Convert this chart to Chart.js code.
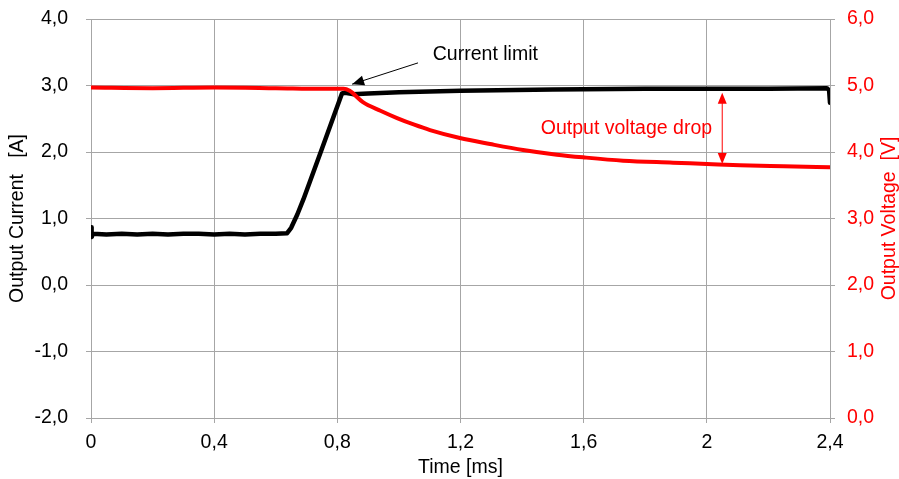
<!DOCTYPE html>
<html>
<head>
<meta charset="utf-8">
<script src="https://cdn.jsdelivr.net/npm/chart.js@4"></script>
<style>
  html, body { margin: 0; padding: 0; background: #fff; }
  #wrap { width: 899px; height: 479px; }
</style>
</head>
<body>
<div id="wrap"><canvas id="chart" width="899" height="479"></canvas></div>
<script>
// time axis [ms] and readings taken from the scope trace
const currentTime = [0, 0.002, 0.006, 0.05, 0.1, 0.15, 0.2, 0.25, 0.3, 0.35, 0.4, 0.45, 0.5, 0.55, 0.6, 0.637,
  0.65, 0.67, 0.69, 0.75, 0.815, 0.825, 0.85, 0.9, 1.0, 1.2, 1.5, 1.8, 2.0, 2.2, 2.39, 2.397, 2.4];
const currentValues = [0.87, 0.72, 0.77, 0.76, 0.77, 0.76, 0.77, 0.76, 0.77, 0.77, 0.76, 0.77, 0.76, 0.77, 0.77, 0.78,
  0.86, 1.06, 1.29, 2.05, 2.88, 2.89, 2.87, 2.88, 2.90, 2.92, 2.94, 2.95, 2.95, 2.95, 2.96, 2.93, 2.74];

const voltageTime = [0, 0.2, 0.4, 0.6, 0.75, 0.82, 0.84, 0.883, 0.94, 0.994, 1.05, 1.101, 1.198, 1.296,
  1.403, 1.513, 1.598, 1.728, 1.89, 2.0, 2.108, 2.25, 2.4];
const voltageValues = [4.97, 4.96, 4.97, 4.96, 4.95, 4.95, 4.92, 4.75, 4.62, 4.51, 4.41, 4.33, 4.21, 4.12,
  4.03, 3.96, 3.92, 3.87, 3.84, 3.82, 3.80, 3.785, 3.77];

const xTicks = [0, 0.4, 0.8, 1.2, 1.6, 2, 2.4];

const FONT = '"Liberation Sans", Arial, sans-serif';
const SIZE = 19.5;
const GRID = '#a6a6a6';

function toPoints(xs, ys) {
  return xs.map((x, i) => ({ x: x, y: ys[i] }));
}

function comma(v, digits) {
  const r = Math.round(v * 10) / 10;
  return (digits ? r.toFixed(digits) : String(r)).replace('.', ',');
}

function arrowHead(ctx, fx, fy, tx, ty, len, half) {
  const a = Math.atan2(ty - fy, tx - fx);
  ctx.beginPath();
  ctx.moveTo(tx, ty);
  ctx.lineTo(tx - len * Math.cos(a) + half * Math.sin(a), ty - len * Math.sin(a) - half * Math.cos(a));
  ctx.lineTo(tx - len * Math.cos(a) - half * Math.sin(a), ty - len * Math.sin(a) + half * Math.cos(a));
  ctx.closePath();
  ctx.fill();
}

function fixY(width) {
  return function (s) {
    s.width = width;
    s.paddingTop = 0;
    s.paddingBottom = 0;
  };
}

// text labels, arrows and the right axis title (read bottom to top)
const notes = {
  id: 'notes',
  afterDraw(chart) {
    const { ctx, scales, chartArea } = chart;
    const px = v => scales.x.getPixelForValue(v);
    const py = v => scales.y.getPixelForValue(v);
    ctx.save();
    ctx.font = SIZE + 'px ' + FONT;

    // Current limit
    ctx.fillStyle = '#000';
    ctx.strokeStyle = '#000';
    ctx.lineWidth = 1;
    ctx.textAlign = 'left';
    ctx.textBaseline = 'middle';
    ctx.fillText('Current limit', px(1.11), py(3.46));
    const ax0 = px(1.062), ay0 = py(3.34), ax1 = px(0.848), ay1 = py(3.02);
    ctx.beginPath();
    ctx.moveTo(ax0, ay0);
    ctx.lineTo(ax1, ay1);
    ctx.stroke();
    arrowHead(ctx, ax0, ay0, ax1, ay1, 12, 5);

    // Output voltage drop
    ctx.fillStyle = '#ff0000';
    ctx.strokeStyle = '#ff0000';
    ctx.textAlign = 'right';
    ctx.fillText('Output voltage drop', px(2.017), py(2.35));
    const dx = px(2.05), dTop = py(2.89), dBot = py(1.82);
    ctx.beginPath();
    ctx.moveTo(dx, dTop + 8);
    ctx.lineTo(dx, dBot - 8);
    ctx.stroke();
    arrowHead(ctx, dx, dBot, dx, dTop, 11, 4.5);
    arrowHead(ctx, dx, dTop, dx, dBot, 11, 4.5);

    // right axis title
    ctx.translate(chart.width - 9, (chartArea.top + chartArea.bottom) / 2);
    ctx.rotate(-Math.PI / 2);
    ctx.textAlign = 'center';
    ctx.fillText('Output Voltage  [V]', 0, 0);
    ctx.restore();
  }
};

new Chart(document.getElementById('chart').getContext('2d'), {
  type: 'line',
  data: {
    datasets: [{
      label: 'Output Voltage',
      data: toPoints(voltageTime, voltageValues),
      yAxisID: 'y1',
      borderColor: '#ff0000',
      borderWidth: 4,
      pointRadius: 0,
      cubicInterpolationMode: 'monotone',
      order: 1
    }, {
      label: 'Output Current',
      data: toPoints(currentTime, currentValues),
      yAxisID: 'y',
      borderColor: '#000000',
      borderWidth: 4.5,
      pointRadius: 0,
      order: 2
    }]
  },
  options: {
    responsive: false,
    animation: false,
    layout: { padding: { top: 19, left: 0, right: 0, bottom: 0 } },
    plugins: { legend: { display: false }, tooltip: { enabled: false } },
    elements: { line: { tension: 0, borderJoinStyle: 'round', borderCapStyle: 'round' } },
    scales: {
      x: {
        type: 'linear',
        min: 0, max: 2.4,
        afterFit(s) { s.height = 61; s.paddingLeft = 0; s.paddingRight = 0; },
        afterBuildTicks(s) { s.ticks = xTicks.map(v => ({ value: v })); },
        grid: { color: GRID, tickLength: 5 },
        border: { color: GRID },
        ticks: { color: '#000', padding: 8, maxRotation: 0, font: { family: FONT, size: SIZE },
          callback: v => comma(v, 0) },
        title: { display: true, text: 'Time [ms]', color: '#000', font: { family: FONT, size: SIZE, lineHeight: 1 },
          padding: { top: 0, bottom: 2 } }
      },
      y: {
        position: 'left',
        min: -2, max: 4,
        afterFit: fixY(91),
        grid: { color: GRID, tickLength: 5 },
        border: { color: GRID },
        ticks: { stepSize: 1, color: '#000', padding: 18, font: { family: FONT, size: SIZE },
          callback: v => comma(v, 1) },
        title: { display: true, text: 'Output Current   [A]', color: '#000',
          font: { family: FONT, size: SIZE, lineHeight: 1 }, padding: { top: 8, bottom: 0 } }
      },
      y1: {
        position: 'right',
        min: 0, max: 6,
        afterFit: fixY(69),
        grid: { drawOnChartArea: false, color: GRID, tickLength: 5 },
        border: { color: GRID },
        ticks: { stepSize: 1, color: '#ff0000', padding: 12, font: { family: FONT, size: SIZE },
          callback: v => comma(v, 1) },
        title: { display: false }
      }
    }
  },
  plugins: [notes]
});
</script>
</body>
</html>
